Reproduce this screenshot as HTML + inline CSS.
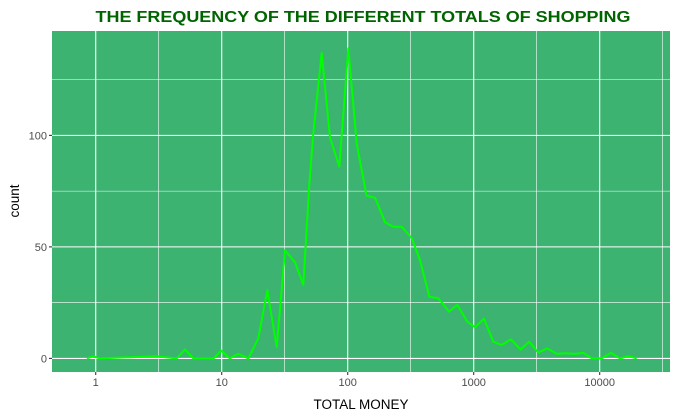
<!DOCTYPE html>
<html><head><meta charset="utf-8"><style>
body{margin:0;background:#fff;}
svg{display:block;font-family:"Liberation Sans",Arial,sans-serif;}
</style></head><body>
<svg id="chart" width="678" height="419" viewBox="0 0 678 419">
<rect x="0" y="0" width="678" height="419" fill="#fff"/>
<text x="363" y="22" text-anchor="middle" font-size="15.5" font-weight="bold" fill="#006400" textLength="535" lengthAdjust="spacingAndGlyphs">THE FREQUENCY OF THE DIFFERENT TOTALS OF SHOPPING</text>
<rect x="52" y="31" width="618" height="341" fill="#3CB371"/>
<g id="grid"></g>
<g id="series"></g>
<g id="axes"></g>
<text x="361" y="409" text-anchor="middle" font-size="13.5" fill="#000">TOTAL MONEY</text>
<text x="0" y="0" transform="translate(19,201) rotate(-90)" text-anchor="middle" font-size="13.5" fill="#000">count</text>
</svg>
<script>
const money = [0.85,0.95,1.08,2.96,4.4,5.1,5.96,8.6,9.9,11.6,13.5,16.3,19.5,23,27.3,31.8,38.2,44.4,49.6,53.3,62.2,72.4,85.8,101,118,141,165,198,230,268,322,375,445,524,637,741,890,1024,1208,1431,1667,1977,2360,2748,3258,3840,4560,5306,6370,7410,8650,10370,12300,14500,16900,19700];
const counts = [0,1,0,1,0,4,0,0,3.5,0,2,0,9,30.6,5,48.5,43,33,78,101,137,99,86,139,96,73,72,61,59,59,54,44,27.6,27,21,24,16.4,14,17.8,7.5,6,8.5,4,7.5,2.7,4.5,2,2.3,2,2.5,0,0,2.5,0,1,0];
const xTicks = [1,10,100,1000,10000];
const xTickLabels = ["1","10","100","1000","10000"];
const yTicks = [0,50,100];
const yTickLabels = ["0","50","100"];
const yMinor = [25,75,125];

const NS="http://www.w3.org/2000/svg";
const X0=52,X1=670,Y0=31,Y1=372;
const lmin=-0.347,lmax=4.558,cmin=-6.1,cmax=146.8;
function xs(v){return X0+(Math.log10(v)-lmin)/(lmax-lmin)*(X1-X0);}
function ys(v){return Y1-(v-cmin)/(cmax-cmin)*(Y1-Y0);}
function mk(tag,attrs,parent){const e=document.createElementNS(NS,tag);for(const k in attrs)e.setAttribute(k,attrs[k]);parent.appendChild(e);return e;}
const grid=document.getElementById('grid'),axes=document.getElementById('axes'),series=document.getElementById('series');
yMinor.forEach(v=>{const l=mk('line',{x1:X0,x2:X1,y1:ys(v),y2:ys(v),stroke:'#fff','stroke-width':0.6},grid);

});
xTicks.forEach(v=>{const m=v*Math.sqrt(10);if(xs(m)<X1){const l=mk('line',{x1:xs(m),x2:xs(m),y1:Y0,y2:Y1,stroke:'#fff','stroke-width':0.6},grid);

}});
yTicks.forEach((v,i)=>{const l=mk('line',{x1:X0,x2:X1,y1:ys(v),y2:ys(v),stroke:'#fff','stroke-width':1.1},grid);


const t=mk('line',{x1:X0-3,x2:X0,y1:ys(v),y2:ys(v),stroke:'#333','stroke-width':1.1},axes);


const tx=mk('text',{x:X0-5,y:ys(v)+4,'text-anchor':'end','font-size':11,fill:'#4d4d4d'},axes);tx.textContent=yTickLabels[i];

});
xTicks.forEach((v,i)=>{const l=mk('line',{x1:xs(v),x2:xs(v),y1:Y0,y2:Y1,stroke:'#fff','stroke-width':1.1},grid);


const t=mk('line',{x1:xs(v),x2:xs(v),y1:Y1,y2:Y1+3,stroke:'#333','stroke-width':1.1},axes);


const tx=mk('text',{x:xs(v),y:Y1+14,'text-anchor':'middle','font-size':11,fill:'#4d4d4d'},axes);tx.textContent=xTickLabels[i];

});
const pts=money.map((m,i)=>xs(m).toFixed(1)+','+ys(counts[i]).toFixed(1)).join(' ');
const pl=mk('polyline',{points:pts,fill:'none',stroke:'#00FF00','stroke-width':2,'stroke-linejoin':'round'},series);


</script>
</body></html>
